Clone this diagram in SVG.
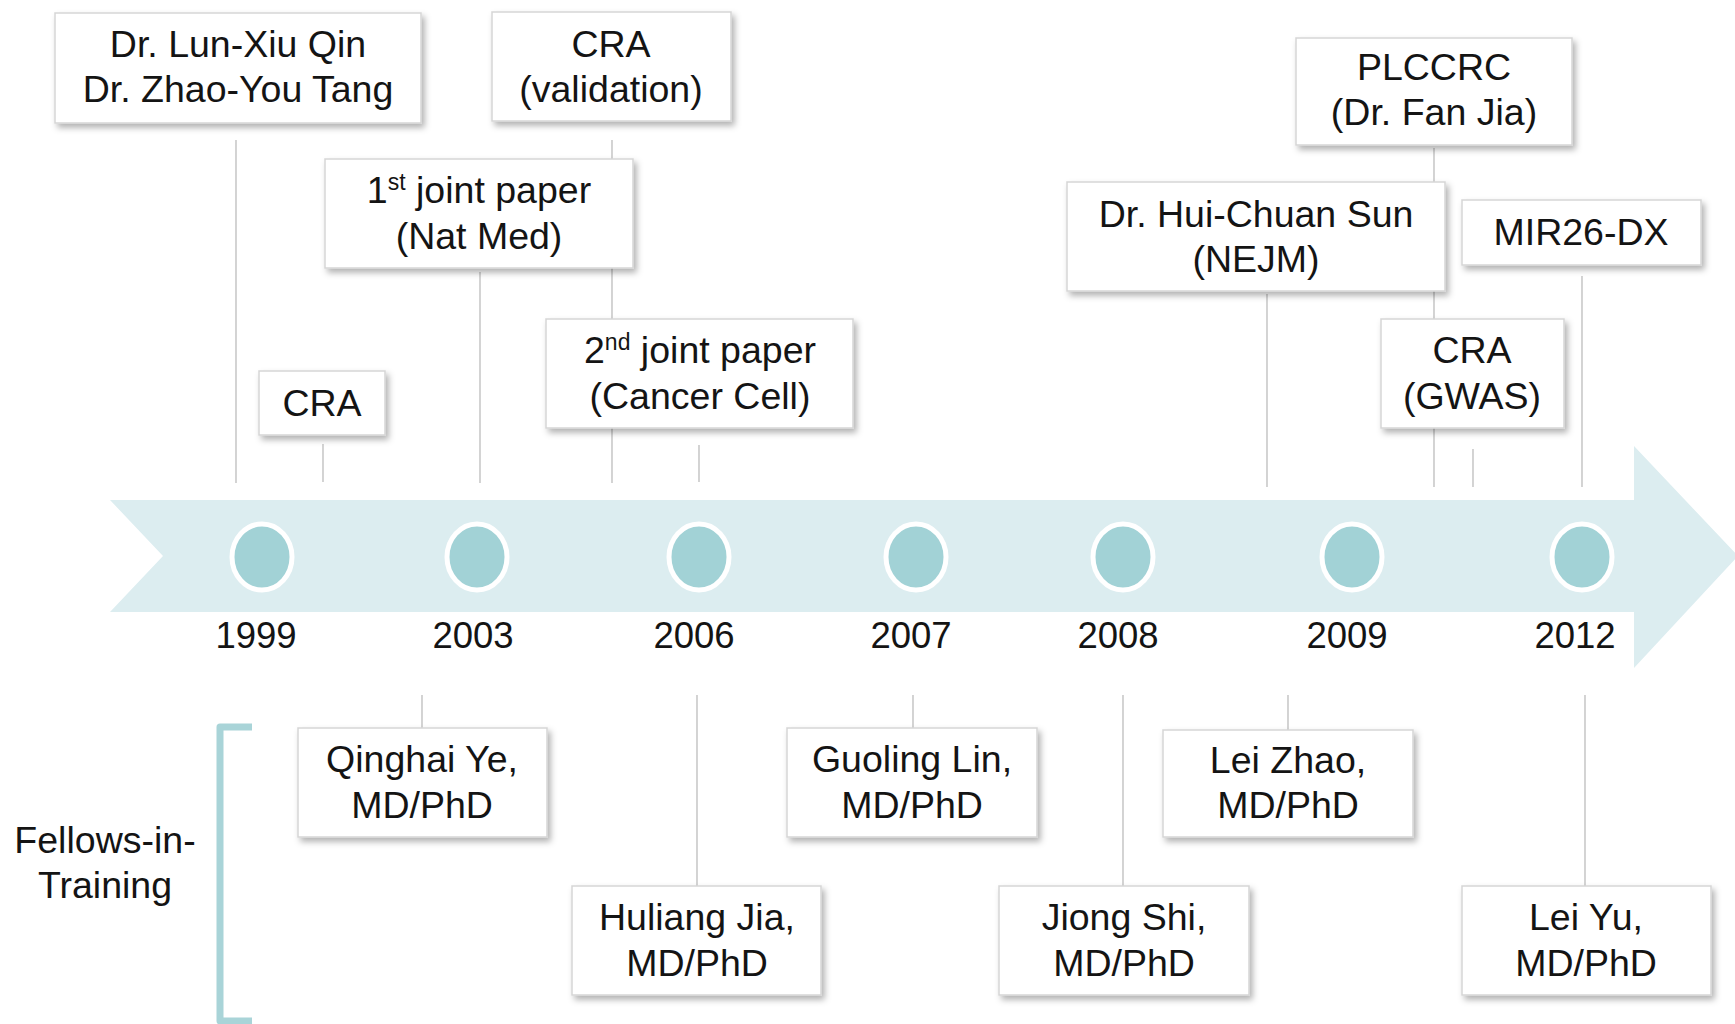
<svg xmlns="http://www.w3.org/2000/svg" width="1735" height="1024" viewBox="0 0 1735 1024">
<defs>
<filter id="sh" x="-10%" y="-10%" width="125%" height="140%">
<feDropShadow dx="3" dy="4" stdDeviation="3" flood-color="#000" flood-opacity="0.3"/>
</filter>
<style>
.box{fill:#fff;stroke:#d6d6d6;stroke-width:1.5;filter:url(#sh)}
.t{font-family:"Liberation Sans",Arial,sans-serif;font-size:37.5px;fill:#141414;text-anchor:middle}
.y{font-size:36.5px}
.ln{stroke:#c9c9c9;stroke-width:1.6;fill:none}
.dot{fill:#a2d2d6;stroke:#fff;stroke-width:5}
.sup{font-size:23px}
</style>
</defs>
<rect width="1735" height="1024" fill="#fff"/>
<g id="timeline">
<path d="M110,500 L1634,500 L1634,446 L1738,556 L1634,668 L1634,612 L110,612 L163,556 Z" fill="#dcedf0"/>
<ellipse class="dot" cx="262" cy="557" rx="30" ry="33"/>
<ellipse class="dot" cx="477" cy="557" rx="30" ry="33"/>
<ellipse class="dot" cx="699" cy="557" rx="30" ry="33"/>
<ellipse class="dot" cx="916" cy="557" rx="30" ry="33"/>
<ellipse class="dot" cx="1123" cy="557" rx="30" ry="33"/>
<ellipse class="dot" cx="1352" cy="557" rx="30" ry="33"/>
<ellipse class="dot" cx="1582" cy="557" rx="30" ry="33"/>
<text class="t y" x="256" y="648">1999</text>
<text class="t y" x="473" y="648">2003</text>
<text class="t y" x="694" y="648">2006</text>
<text class="t y" x="911" y="648">2007</text>
<text class="t y" x="1118" y="648">2008</text>
<text class="t y" x="1347" y="648">2009</text>
<text class="t y" x="1575" y="648">2012</text>
</g>
<g id="connectors">
<line class="ln" x1="236" y1="140" x2="236" y2="483"/>
<line class="ln" x1="612" y1="140" x2="612" y2="483"/>
<line class="ln" x1="480" y1="272" x2="480" y2="483"/>
<line class="ln" x1="323" y1="444" x2="323" y2="482"/>
<line class="ln" x1="699" y1="445" x2="699" y2="482"/>
<line class="ln" x1="1434" y1="148" x2="1434" y2="487"/>
<line class="ln" x1="1267" y1="294" x2="1267" y2="487"/>
<line class="ln" x1="1582" y1="276" x2="1582" y2="487"/>
<line class="ln" x1="1473" y1="449" x2="1473" y2="487"/>
<line class="ln" x1="422" y1="695" x2="422" y2="728"/>
<line class="ln" x1="697" y1="695" x2="697" y2="886"/>
<line class="ln" x1="913" y1="695" x2="913" y2="728"/>
<line class="ln" x1="1123" y1="695" x2="1123" y2="886"/>
<line class="ln" x1="1288" y1="695" x2="1288" y2="730"/>
<line class="ln" x1="1585" y1="695" x2="1585" y2="886"/>
</g>
<g id="n-qin-tang">
<rect class="box" x="55" y="13" width="366" height="110"/>
<text class="t" x="238" y="57">Dr. Lun-Xiu Qin</text>
<text class="t" x="238" y="102">Dr. Zhao-You Tang</text>
</g>
<g id="n-cra-validation">
<rect class="box" x="492" y="12" width="239" height="109"/>
<text class="t" x="611" y="57">CRA</text>
<text class="t" x="611" y="102">(validation)</text>
</g>
<g id="n-first-paper">
<rect class="box" x="325" y="159" width="308" height="109"/>
<text class="t" x="479" y="203">1<tspan class="sup" dy="-13">st</tspan><tspan dy="13"> joint paper</tspan></text>
<text class="t" x="479" y="249">(Nat Med)</text>
</g>
<g id="n-cra">
<rect class="box" x="259" y="371" width="126" height="64"/>
<text class="t" x="322" y="416">CRA</text>
</g>
<g id="n-second-paper">
<rect class="box" x="546" y="319" width="307" height="109"/>
<text class="t" x="700" y="363">2<tspan class="sup" dy="-13">nd</tspan><tspan dy="13"> joint paper</tspan></text>
<text class="t" x="700" y="409">(Cancer Cell)</text>
</g>
<g id="n-plccrc">
<rect class="box" x="1296" y="38" width="276" height="107"/>
<text class="t" x="1434" y="80">PLCCRC</text>
<text class="t" x="1434" y="125">(Dr. Fan Jia)</text>
</g>
<g id="n-sun">
<rect class="box" x="1067" y="182" width="378" height="109"/>
<text class="t" x="1256" y="227">Dr. Hui-Chuan Sun</text>
<text class="t" x="1256" y="272">(NEJM)</text>
</g>
<g id="n-mir26">
<rect class="box" x="1462" y="200" width="239" height="65"/>
<text class="t" x="1581" y="245">MIR26-DX</text>
</g>
<g id="n-cra-gwas">
<rect class="box" x="1381" y="319" width="183" height="109"/>
<text class="t" x="1472" y="363">CRA</text>
<text class="t" x="1472" y="409">(GWAS)</text>
</g>
<g id="n-fellows">
<path d="M252,727 L220,727 L220,1021 L252,1021" fill="none" stroke="#a9d4d8" stroke-width="7" stroke-linejoin="round"/>
<text class="t" x="105" y="853">Fellows-in-</text>
<text class="t" x="105" y="898">Training</text>
</g>
<g id="n-ye">
<rect class="box" x="298" y="728" width="249" height="109"/>
<text class="t" x="422" y="772">Qinghai Ye,</text>
<text class="t" x="422" y="818">MD/PhD</text>
</g>
<g id="n-jia">
<rect class="box" x="572" y="886" width="249" height="109"/>
<text class="t" x="697" y="930">Huliang Jia,</text>
<text class="t" x="697" y="976">MD/PhD</text>
</g>
<g id="n-lin">
<rect class="box" x="787" y="728" width="250" height="109"/>
<text class="t" x="912" y="772">Guoling Lin,</text>
<text class="t" x="912" y="818">MD/PhD</text>
</g>
<g id="n-shi">
<rect class="box" x="999" y="886" width="250" height="109"/>
<text class="t" x="1124" y="930">Jiong Shi,</text>
<text class="t" x="1124" y="976">MD/PhD</text>
</g>
<g id="n-zhao">
<rect class="box" x="1163" y="730" width="250" height="107"/>
<text class="t" x="1288" y="773">Lei Zhao,</text>
<text class="t" x="1288" y="818">MD/PhD</text>
</g>
<g id="n-yu">
<rect class="box" x="1462" y="886" width="249" height="109"/>
<text class="t" x="1586" y="930">Lei Yu,</text>
<text class="t" x="1586" y="976">MD/PhD</text>
</g>
</svg>
